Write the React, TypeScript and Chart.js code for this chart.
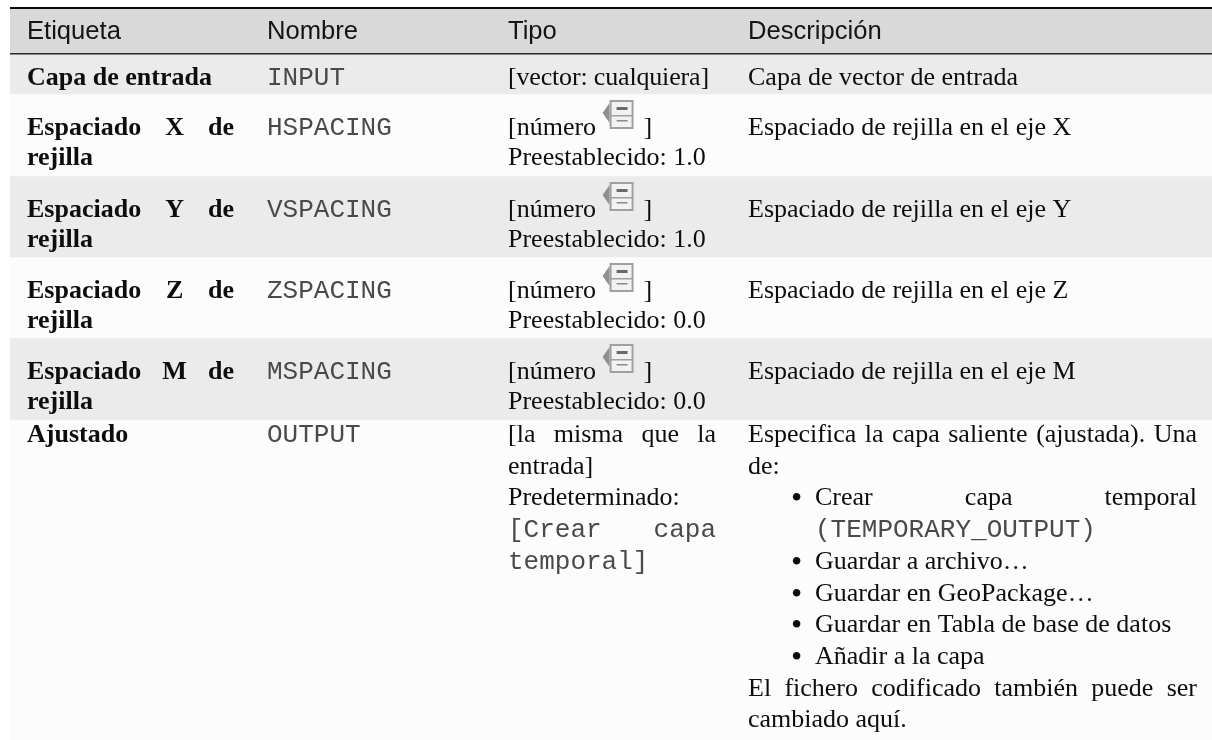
import React, { useEffect, useRef } from "react";
import { Chart, registerables } from "chart.js";

Chart.register(...registerables);

const SERIF = '26px "Liberation Serif"';
const BOLD = 'bold 26px "Liberation Serif"';
const SANS = '25.6px "Liberation Sans"';
const MONO = '26px "Liberation Mono"';
const BULLET = '32px "Liberation Serif"';

// table structure
const rowNames = ["margen", "cabecera", "capa", "x", "y", "z", "m", "ajustado"];
const rowHeights = [8, 46, 40, 82, 81, 81, 82, 320];
const rowColors = ["#ffffff", "#d9d9d9", "#ebebeb", "#fcfcfc", "#ebebeb", "#fcfcfc", "#ebebeb", "#fcfcfc"];

const columnStarts = [27, 267, 508, 748];
const columnEnds = [234, 476, 716, 1197];
const columnHeaders = ["Etiqueta", "Nombre", "Tipo", "Descripción"];

const etiquetas = ["Capa de entrada", "Espaciado X de|rejilla", "Espaciado Y de|rejilla", "Espaciado Z de|rejilla", "Espaciado M de|rejilla", "Ajustado"];
const nombres = ["INPUT", "HSPACING", "VSPACING", "ZSPACING", "MSPACING", "OUTPUT"];
const tipos = [
  "[vector: cualquiera]",
  "[número @ ]|Preestablecido: 1.0",
  "[número @ ]|Preestablecido: 1.0",
  "[número @ ]|Preestablecido: 0.0",
  "[número @ ]|Preestablecido: 0.0",
  "[la misma que la|entrada]|Predeterminado:|~[Crear capa|~temporal]",
];
const descripciones = [
  "Capa de vector de entrada",
  "Espaciado de rejilla en el eje X",
  "Espaciado de rejilla en el eje Y",
  "Espaciado de rejilla en el eje Z",
  "Espaciado de rejilla en el eje M",
  "Especifica la capa saliente (ajustada). Una|de:|*Crear capa temporal|+~(TEMPORARY_OUTPUT)|*Guardar a archivo…|*Guardar en GeoPackage…|*Guardar en Tabla de base de datos|*Añadir a la capa|El fichero codificado también puede ser|cambiado aquí.",
];
const justifiedLines = [
  "Espaciado X de", "Espaciado Y de", "Espaciado Z de", "Espaciado M de",
  "[la misma que la", "[Crear capa",
  "Especifica la capa saliente (ajustada). Una",
  "Crear capa temporal",
  "El fichero codificado también puede ser",
];

const firstBaseline = [31, 41, 41, 41, 41, 22];
const LINE = 31.7;
const LIST_TEXT_X = 815;
const BULLET_X = 791;

function drawIcon(ctx: CanvasRenderingContext2D, x: number, y: number) {
  ctx.save();
  ctx.fillStyle = "#8f8f8f";
  ctx.beginPath();
  ctx.moveTo(x, y + 13);
  ctx.lineTo(x + 7, y + 3);
  ctx.lineTo(x + 7, y + 23);
  ctx.closePath();
  ctx.fill();
  ctx.fillStyle = "#f2f2f2";
  ctx.strokeStyle = "#a0a0a0";
  ctx.lineWidth = 2;
  ctx.fillRect(x + 8, y + 1, 22, 27);
  ctx.strokeRect(x + 8, y + 1, 22, 27);
  ctx.fillStyle = "#6a6a6a";
  ctx.fillRect(x + 14, y + 7, 11, 3);
  ctx.fillStyle = "#a0a0a0";
  ctx.fillRect(x + 8, y + 15, 22, 1.5);
  ctx.fillStyle = "#8a8a8a";
  ctx.fillRect(x + 14, y + 20, 11, 1.5);
  ctx.restore();
}

const tablePlugin = {
  id: "tabla",
  afterDatasetsDraw(chart: any) {
    const { ctx, scales } = chart;
    const yPx = (v: number) => scales.y.getPixelForValue(v);
    const sums: number[] = [];
    rowHeights.reduce((acc, h, i) => ((sums[i] = acc), acc + h), 0);

    ctx.save();
    ctx.textBaseline = "alphabetic";
    const left = chart.chartArea.left;
    const right = chart.chartArea.right;
    ctx.fillStyle = "#0a0a0a";
    ctx.fillRect(left, yPx(sums[1]) - 1, right - left, 2);
    ctx.fillStyle = "#2a2a2a";
    ctx.fillRect(left, yPx(sums[2]) - 1, right - left, 1.5);

    ctx.font = SANS;
    ctx.fillStyle = "#141414";
    columnHeaders.forEach((h, c) => ctx.fillText(h, columnStarts[c], yPx(sums[1]) + 31));

    const cols = [etiquetas, nombres, tipos, descripciones];
    cols.forEach((col, c) => {
      col.forEach((cell, r) => {
        const top = yPx(sums[r + 2]);
        cell.split("|").forEach((raw, i) => {
          let line = raw;
          let x = columnStarts[c];
          const baseline = top + firstBaseline[r] + i * (r === 5 ? LINE : 30);
          if (line.startsWith("*")) {
            line = line.slice(1);
            ctx.font = BULLET;
            ctx.fillStyle = "#0d0d0d";
            ctx.fillText("•", BULLET_X, baseline + 3);
            x = LIST_TEXT_X;
          } else if (line.startsWith("+")) {
            line = line.slice(1);
            x = LIST_TEXT_X;
          }
          let font = c === 0 ? BOLD : c === 1 ? MONO : SERIF;
          if (line.startsWith("~")) {
            line = line.slice(1);
            font = MONO;
          }
          ctx.font = font;
          ctx.fillStyle = font === MONO ? "#4a4a4a" : "#0d0d0d";
          if (line.includes("@")) {
            const [a, b] = line.split("@");
            ctx.fillText(a.trimEnd(), x, baseline);
            const w = ctx.measureText(a).width;
            drawIcon(ctx, x + w, baseline - 35);
            ctx.fillText(b.trim(), x + w + 41, baseline);
            return;
          }
          if (justifiedLines.includes(line)) {
            const spaces = line.split(" ").length - 1;
            ctx.wordSpacing = "0px";
            const w = ctx.measureText(line).width;
            ctx.wordSpacing = `${(columnEnds[c] - x - w) / spaces}px`;
          } else if (line === "[vector: cualquiera]") {
            ctx.letterSpacing = "-0.17px";
          }
          ctx.fillText(line, x, baseline);
          ctx.wordSpacing = "0px";
          ctx.letterSpacing = "0px";
        });
      });
    });
    ctx.restore();
  },
};

export default function App() {
  const ref = useRef<HTMLCanvasElement>(null);
  useEffect(() => {
    document.body.style.margin = "0";
    const chart = new Chart(ref.current!, {
      type: "bar",
      data: {
        labels: ["tabla"],
        datasets: rowNames.map((name, i) => ({
          label: name,
          data: [rowHeights[i]],
          backgroundColor: rowColors[i],
          barPercentage: 1,
          categoryPercentage: 1,
          stack: "filas",
        })),
      },
      options: {
        animation: false,
        responsive: false,
        layout: { padding: { left: 10 } },
        plugins: { legend: { display: false }, tooltip: { enabled: false } },
        scales: {
          x: { display: false, stacked: true },
          y: { display: false, stacked: true, reverse: true, min: 0, max: 740 },
        },
      },
      plugins: [tablePlugin],
    });
    return () => chart.destroy();
  }, []);
  return <canvas ref={ref} width={1212} height={740} style={{ display: "block" }} />;
}
